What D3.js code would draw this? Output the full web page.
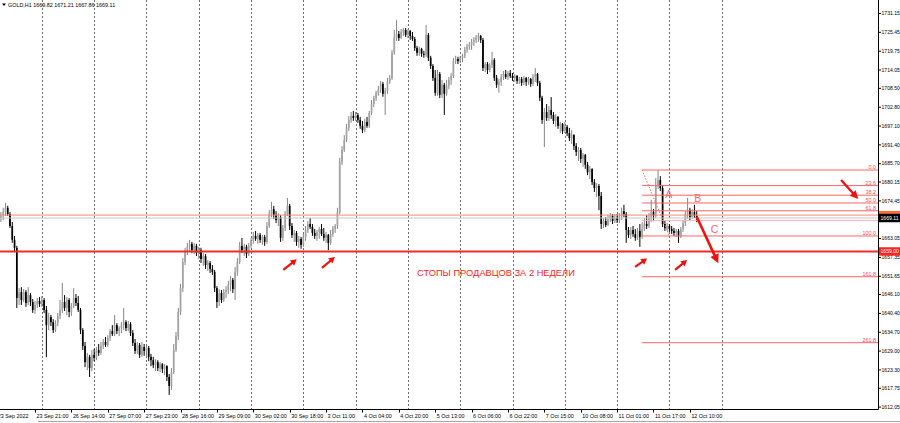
<!DOCTYPE html>
<html><head><meta charset="utf-8">
<script src="https://cdn.jsdelivr.net/npm/d3@7"></script>
<style>html,body{margin:0;padding:0;background:#fff;overflow:hidden}svg{display:block}</style>
</head><body><svg id="c" width="900" height="423"></svg>
<script>
// ---------------- DATA ----------------
const symbolName = "GOLD,H1";
const legendValues = ["1669.82", "1671.21", "1667.86", "1669.11"];

const opens = [
1669.1,1670.0,1670.9,1672.2,1670.3,1666.7,1662.5,1660.1,1644.9,1646.7,
1644.3,1646.7,1643.4,1645.8,1643.7,1641.3,1642.8,1644.0,1643.1,1644.3,
1641.3,1636.7,1639.1,1637.6,1635.2,1637.3,1639.5,1641.3,1643.7,1641.9,
1644.3,1640.7,1642.5,1644.9,1643.4,1641.3,1635.2,1630.4,1625.5,1627.1,
1623.7,1627.7,1626.8,1629.2,1628.3,1630.4,1631.6,1630.7,1632.8,1634.9,
1634.0,1636.7,1634.9,1635.8,1636.7,1637.6,1635.8,1637.0,1634.3,1631.3,
1628.9,1630.7,1627.7,1630.1,1628.9,1629.8,1627.1,1626.1,1624.6,1625.5,
1623.7,1624.9,1623.4,1624.3,1621.0,1618.3,1622.5,1629.2,1633.4,1640.7,
1647.9,1655.8,1658.8,1660.4,1661.3,1659.4,1660.7,1658.5,1659.4,1656.7,
1657.6,1654.9,1655.5,1653.7,1652.8,1647.9,1643.7,1646.4,1644.3,1646.7,
1647.3,1648.9,1650.4,1647.6,1652.8,1655.8,1660.7,1659.4,1660.4,1658.2,
1660.7,1662.2,1663.7,1662.8,1664.0,1662.5,1663.4,1661.9,1666.7,1670.3,
1671.8,1670.0,1668.5,1669.4,1663.1,1666.1,1670.3,1672.8,1666.7,1664.0,
1664.6,1661.9,1662.8,1661.0,1663.4,1665.5,1667.3,1666.4,1664.6,1663.7,
1664.9,1665.8,1664.3,1663.1,1664.0,1661.6,1664.3,1665.8,1666.7,1670.9,
1686.1,1689.7,1692.7,1696.3,1698.8,1700.0,1699.4,1700.3,1698.8,1697.0,
1695.7,1698.2,1697.0,1700.9,1703.6,1705.4,1707.0,1708.1,1709.7,1706.7,
1707.6,1710.3,1711.5,1719.1,1723.6,1724.8,1723.6,1725.4,1726.0,1724.5,
1725.7,1724.2,1723.3,1720.6,1719.1,1720.3,1718.8,1718.5,1724.5,1717.6,
1715.1,1711.5,1707.0,1712.7,1706.4,1709.4,1706.7,1709.1,1710.9,1712.1,
1716.6,1717.2,1716.6,1717.5,1718.2,1720.0,1720.9,1721.5,1722.4,1723.0,
1723.6,1724.2,1723.0,1714.5,1715.7,1713.9,1715.4,1716.9,1711.5,1709.4,
1710.3,1711.8,1712.7,1711.8,1713.0,1712.1,1711.5,1712.1,1710.6,1711.2,
1710.0,1711.5,1710.3,1711.2,1709.7,1711.8,1712.7,1710.0,1705.5,1698.8,
1701.2,1699.4,1701.8,1700.3,1698.5,1699.7,1697.0,1697.6,1695.4,1696.7,
1694.8,1693.3,1694.2,1690.9,1689.1,1689.7,1687.0,1688.2,1685.2,1683.0,
1683.9,1680.0,1678.2,1678.8,1675.8,1667.3,1668.2,1667.0,1668.8,1669.7,
1668.2,1669.1,1668.5,1669.7,1671.2,1670.3,1665.5,1664.0,1665.5,1664.3,
1663.1,1665.2,1663.4,1665.8,1667.3,1666.7,1669.1,1670.9,1669.7,1679.1,
1680.6,1678.2,1667.3,1666.1,1666.7,1665.8,1665.2,1664.6,1665.2,1663.7,
1665.8,1667.6,1670.3,1671.5,1669.4,1670.9,1669.82];

const highs = [
1670.9,1672.2,1673.7,1672.8,1670.9,1667.9,1663.7,1660.7,1647.9,1648.2,
1647.6,1647.3,1648.2,1646.4,1644.6,1644.0,1644.9,1645.2,1645.5,1644.9,
1642.5,1640.4,1639.8,1638.5,1638.2,1640.4,1644.3,1649.5,1645.8,1645.2,
1644.9,1643.4,1647.9,1646.1,1645.5,1641.9,1635.8,1631.6,1628.3,1627.7,
1629.2,1629.5,1630.1,1631.0,1631.6,1632.5,1633.1,1633.7,1635.5,1636.7,
1639.8,1637.3,1636.4,1637.6,1641.9,1638.2,1637.9,1637.6,1635.2,1632.5,
1631.6,1631.3,1631.6,1631.0,1630.7,1630.4,1628.0,1627.1,1626.4,1626.1,
1625.5,1625.2,1624.9,1624.6,1621.9,1623.7,1631.0,1634.6,1641.9,1649.2,
1657.0,1660.1,1661.6,1662.5,1661.9,1661.6,1661.3,1660.4,1660.1,1658.5,
1658.2,1656.4,1656.1,1654.9,1653.4,1648.5,1647.6,1647.3,1647.6,1648.5,
1650.1,1651.6,1651.0,1654.3,1657.0,1661.9,1663.1,1661.3,1661.0,1661.6,
1663.1,1664.9,1665.2,1664.6,1664.6,1664.0,1664.0,1667.9,1671.5,1674.0,
1672.8,1671.2,1670.6,1670.0,1667.0,1671.2,1675.2,1673.4,1667.6,1665.5,
1665.2,1663.7,1663.4,1664.3,1666.7,1668.2,1669.1,1667.3,1665.8,1665.5,
1666.4,1667.3,1666.1,1664.9,1664.3,1665.5,1666.7,1667.3,1672.2,1687.3,
1690.9,1694.2,1697.6,1700.0,1701.2,1701.5,1701.2,1700.9,1699.7,1698.5,
1699.1,1699.7,1701.5,1704.8,1706.1,1707.6,1709.1,1710.6,1710.3,1708.5,
1711.5,1712.4,1720.0,1726.0,1729.0,1725.7,1726.3,1726.6,1726.6,1726.3,
1726.0,1725.4,1723.9,1721.2,1720.9,1720.6,1719.7,1727.5,1725.1,1718.2,
1715.7,1713.9,1713.9,1713.3,1710.9,1710.0,1710.9,1711.8,1713.0,1717.5,
1718.2,1717.9,1718.2,1718.8,1720.9,1721.8,1722.4,1723.3,1723.9,1724.5,
1725.1,1724.5,1723.6,1716.3,1716.3,1716.0,1719.4,1717.5,1712.4,1711.2,
1712.7,1713.6,1713.9,1713.6,1713.9,1713.0,1712.7,1712.4,1711.8,1711.8,
1712.1,1711.8,1711.8,1711.5,1712.7,1714.5,1713.0,1710.6,1706.1,1702.4,
1703.6,1703.0,1705.7,1701.2,1700.6,1700.0,1698.2,1697.9,1698.2,1697.3,
1696.4,1695.7,1694.5,1691.8,1690.6,1690.3,1688.8,1688.5,1686.1,1684.9,
1684.2,1680.9,1679.7,1679.4,1677.0,1669.1,1669.4,1670.0,1670.6,1670.3,
1670.3,1670.3,1670.6,1672.2,1673.1,1670.9,1666.4,1666.4,1666.7,1665.8,
1666.1,1667.3,1667.9,1669.1,1670.0,1670.6,1674.6,1671.8,1681.2,1683.6,
1681.8,1679.1,1668.2,1667.6,1667.3,1666.7,1666.1,1665.8,1665.8,1666.4,
1668.5,1671.2,1675.2,1672.2,1671.8,1673.1,1671.21];

const lows = [
1667.9,1668.5,1669.7,1669.7,1666.1,1661.6,1658.8,1641.9,1642.8,1642.8,
1643.7,1642.2,1642.8,1642.5,1640.4,1640.1,1641.9,1642.2,1642.2,1640.4,
1627.0,1635.2,1636.4,1634.3,1634.6,1636.4,1638.5,1640.4,1641.0,1639.8,
1639.1,1639.5,1641.9,1642.5,1640.7,1634.0,1629.2,1624.0,1623.1,1621.0,
1622.8,1625.8,1626.1,1627.4,1627.7,1629.5,1630.1,1630.1,1631.9,1633.4,
1633.4,1634.0,1633.4,1634.3,1635.2,1634.9,1634.9,1633.4,1630.4,1628.0,
1628.0,1626.8,1627.1,1627.4,1627.1,1625.8,1624.3,1623.7,1622.8,1622.8,
1622.5,1622.2,1621.6,1619.8,1615.6,1617.1,1621.9,1628.6,1632.2,1639.8,
1646.7,1654.9,1657.9,1659.1,1658.5,1658.2,1657.6,1656.7,1655.5,1654.6,
1653.7,1653.1,1652.5,1651.9,1646.7,1641.9,1642.5,1643.4,1643.7,1644.9,
1646.1,1647.0,1646.4,1644.3,1651.6,1655.2,1658.5,1657.6,1657.0,1657.6,
1660.1,1661.3,1662.2,1661.3,1661.6,1661.0,1660.7,1661.3,1666.1,1669.4,
1668.8,1667.6,1666.7,1661.9,1662.2,1665.2,1669.7,1665.5,1663.1,1661.9,
1660.7,1660.1,1659.8,1660.4,1662.2,1664.6,1665.8,1663.7,1662.8,1662.2,
1662.8,1663.7,1662.2,1661.6,1659.4,1661.0,1663.4,1664.6,1665.8,1670.3,
1685.2,1689.1,1692.1,1695.4,1697.9,1698.5,1698.5,1697.9,1696.1,1694.8,
1695.1,1696.4,1696.4,1700.3,1702.7,1704.5,1706.1,1707.0,1705.8,1700.3,
1706.7,1709.7,1710.9,1718.5,1722.7,1722.7,1723.3,1724.2,1723.9,1723.6,
1723.0,1722.7,1719.7,1718.2,1718.2,1717.9,1717.6,1717.9,1716.6,1714.2,
1710.6,1706.1,1706.1,1705.4,1705.4,1700.3,1706.1,1708.1,1709.4,1711.5,
1715.7,1715.7,1716.0,1716.3,1717.5,1719.1,1720.0,1720.0,1721.2,1722.1,
1722.4,1722.1,1713.6,1713.3,1712.7,1713.3,1714.5,1710.6,1708.5,1707.0,
1709.1,1710.9,1711.2,1710.9,1711.5,1710.6,1710.3,1709.7,1709.7,1709.1,
1709.4,1709.1,1709.4,1708.8,1709.1,1710.3,1709.1,1704.5,1697.6,1690.6,
1698.5,1698.5,1699.1,1697.6,1696.7,1696.1,1694.8,1694.5,1694.8,1693.9,
1692.4,1691.5,1689.7,1687.9,1686.4,1685.8,1684.6,1684.0,1682.1,1680.9,
1679.1,1677.0,1675.5,1671.5,1665.8,1666.1,1666.4,1666.7,1667.9,1667.3,
1667.6,1667.6,1667.6,1668.5,1669.4,1661.6,1663.1,1662.8,1663.4,1662.2,
1662.5,1660.4,1662.8,1665.2,1665.8,1666.1,1667.9,1668.2,1669.1,1677.9,
1677.3,1666.4,1665.2,1665.2,1664.9,1664.3,1663.7,1663.4,1661.6,1663.1,
1664.9,1666.7,1668.8,1668.5,1668.8,1669.1,1667.86];

const closes = [
1670.0,1670.9,1672.2,1670.3,1666.7,1662.5,1660.1,1644.9,1646.7,1644.3,
1646.7,1643.4,1645.8,1643.7,1641.3,1642.8,1644.0,1643.1,1644.3,1641.3,
1636.7,1639.1,1637.6,1635.2,1637.3,1639.5,1641.3,1643.7,1641.9,1644.3,
1640.7,1642.5,1644.9,1643.4,1641.3,1635.2,1630.4,1625.5,1627.1,1623.7,
1627.7,1626.8,1629.2,1628.3,1630.4,1631.6,1630.7,1632.8,1634.9,1634.0,
1636.7,1634.9,1635.8,1636.7,1637.6,1635.8,1637.0,1634.3,1631.3,1628.9,
1630.7,1627.7,1630.1,1628.9,1629.8,1627.1,1626.1,1624.6,1625.5,1623.7,
1624.9,1623.4,1624.3,1621.0,1618.3,1622.5,1629.2,1633.4,1640.7,1647.9,
1655.8,1658.8,1660.4,1661.3,1659.4,1660.7,1658.5,1659.4,1656.7,1657.6,
1654.9,1655.5,1653.7,1652.8,1647.9,1643.7,1646.4,1644.3,1646.7,1647.3,
1648.9,1650.4,1647.6,1652.8,1655.8,1660.7,1659.4,1660.4,1658.2,1660.7,
1662.2,1663.7,1662.8,1664.0,1662.5,1663.4,1661.9,1666.7,1670.3,1671.8,
1670.0,1668.5,1669.4,1663.1,1666.1,1670.3,1672.8,1666.7,1664.0,1664.6,
1661.9,1662.8,1661.0,1663.4,1665.5,1667.3,1666.4,1664.6,1663.7,1664.9,
1665.8,1664.3,1663.1,1664.0,1661.6,1664.3,1665.8,1666.7,1670.9,1686.1,
1689.7,1692.7,1696.3,1698.8,1700.0,1699.4,1700.3,1698.8,1697.0,1695.7,
1698.2,1697.0,1700.9,1703.6,1705.4,1707.0,1708.1,1709.7,1706.7,1707.6,
1710.3,1711.5,1719.1,1723.6,1724.8,1723.6,1725.4,1726.0,1724.5,1725.7,
1724.2,1723.3,1720.6,1719.1,1720.3,1718.8,1718.5,1724.5,1717.6,1715.1,
1711.5,1707.0,1712.7,1706.4,1709.4,1706.7,1709.1,1710.9,1712.1,1716.6,
1717.2,1716.6,1717.5,1718.2,1720.0,1720.9,1721.5,1722.4,1723.0,1723.6,
1724.2,1723.0,1714.5,1715.7,1713.9,1715.4,1716.9,1711.5,1709.4,1710.3,
1711.8,1712.7,1711.8,1713.0,1712.1,1711.5,1712.1,1710.6,1711.2,1710.0,
1711.5,1710.3,1711.2,1709.7,1711.8,1712.7,1710.0,1705.5,1698.8,1701.2,
1699.4,1701.8,1700.3,1698.5,1699.7,1697.0,1697.6,1695.4,1696.7,1694.8,
1693.3,1694.2,1690.9,1689.1,1689.7,1687.0,1688.2,1685.2,1683.0,1683.9,
1680.0,1678.2,1678.8,1675.8,1667.3,1668.2,1667.0,1668.8,1669.7,1668.2,
1669.1,1668.5,1669.7,1671.2,1670.3,1665.5,1664.0,1665.5,1664.3,1663.1,
1665.2,1663.4,1665.8,1667.3,1666.7,1669.1,1670.9,1669.7,1679.1,1680.6,
1678.2,1667.3,1666.1,1666.7,1665.8,1665.2,1664.6,1665.2,1663.7,1665.8,
1667.6,1670.3,1671.5,1669.4,1670.9,1669.8,1669.11];

// bar index of each day's first hour (grid separators), incl. next day
const dayStartBars = [18,41,64,87,110,133,156,179,202,225,248,271,294,317];
// time-axis labels and the bar each one sits on
const dateLabels = ["23 Sep 2022","23 Sep 21:00","26 Sep 14:00","27 Sep 07:00","27 Sep 23:00",
  "28 Sep 16:00","29 Sep 09:00","30 Sep 02:00","30 Sep 18:00","3 Oct 11:00","4 Oct 04:00",
  "4 Oct 20:00","5 Oct 13:00","6 Oct 06:00","6 Oct 22:00","7 Oct 15:00","10 Oct 08:00",
  "11 Oct 01:00","11 Oct 17:00","12 Oct 10:00"];
const dateLabelBars = [-2,15,31,47,63,79,95,111,127,143,159,175,191,207,223,239,255,271,287,303];

const priceTicks = [1731.15,1725.45,1719.75,1714.05,1708.50,1702.80,1697.10,1691.40,1685.70,
  1680.15,1674.45,1663.05,1657.35,1651.65,1646.10,1640.40,1634.70,1629.00,1623.30,
  1617.75,1612.05];

const supportLevel = 1659.00;   // thick red line
const resistLevel = 1670.00;    // salmon line
const bidPrice = 1669.11;       // grey bid line

const fibHigh = 1683.64, fibLow = 1663.68, fibStartBar = 282, fibEndBar = 294;
const fibLevels = [0, 23.6, 38.2, 50.0, 61.8, 76.4, 100, 161.8, 261.8];
const fibLabels = ["0.0","23.6","38.2","50.0","61.8","","100.0","161.8","261.8"];

// arrows: [tailBar, tailPrice, tipBar, tipPrice, size]
const arrows = [
  [124.2,1653.4,130.1,1656.6,"s"],
  [141.2,1654.0,146.9,1657.3,"s"],
  [278.9,1654.3,284.2,1656.9,"s"],
  [296.5,1653.4,301.8,1656.4,"s"],
  [306.0,1669.5,315.5,1655.4,"l"],
  [369.5,1680.6,377.0,1674.9,"m"]
];
const waveLabels = [["A",293.7,1675.1],["B",306.5,1674.0],["C",313.8,1664.5]];
const noteText = "СТОПЫ ПРОДАВЦОВ ЗА 2 НЕДЕЛИ";
const notePos = [183.0, 1651.6];

// ---------------- DRAW ----------------
const svg = d3.select("#c");
const FONT = "'Liberation Sans', Arial, sans-serif";
const plotRight = 878, plotBottom = 409.5;
const x = d3.scaleLinear().domain([0, 306]).range([0.9, 696.7]);
const y = d3.scaleLinear().domain([1612.05, 1731.15]).range([406.6, 13.0]);

// vertical dotted grid (day separators)
svg.append("g").selectAll("line").data(dayStartBars).join("line")
  .attr("x1", d => Math.round(x(d)) + 0.5).attr("x2", d => Math.round(x(d)) + 0.5)
  .attr("y1", 0).attr("y2", plotBottom + 2)
  .attr("stroke", "#6e6e6e").attr("stroke-width", 1).attr("stroke-dasharray", "2,2");

// candles
const bars = d3.range(closes.length).map(i => ({i, o: opens[i], h: highs[i], l: lows[i], c: closes[i]}));
const gC = svg.append("g");
gC.selectAll("rect.w").data(bars).join("rect").attr("class","w")
  .attr("x", d => x(d.i) - 0.5).attr("width", 1)
  .attr("y", d => y(d.h)).attr("height", d => Math.max(0.6, y(d.l) - y(d.h)))
  .attr("fill", d => d.c >= d.o ? "#858585" : "#000");
gC.selectAll("rect.b").data(bars).join("rect").attr("class","b")
  .attr("x", d => x(d.i) - 0.85).attr("width", 1.7)
  .attr("y", d => y(Math.max(d.o, d.c)))
  .attr("height", d => Math.max(0.8, Math.abs(y(d.o) - y(d.c))))
  .attr("fill", d => d.c >= d.o ? "#a2a2a2" : "#000");

// horizontal levels
const hl = svg.append("g");
hl.append("line").attr("x1", 0).attr("x2", plotRight).attr("y1", y(resistLevel)).attr("y2", y(resistLevel))
  .attr("stroke", "#f58a70").attr("stroke-width", 1);
hl.append("line").attr("x1", 0).attr("x2", plotRight).attr("y1", y(bidPrice)).attr("y2", y(bidPrice))
  .attr("stroke", "#c8c8c8").attr("stroke-width", 1);
hl.append("line").attr("x1", 0).attr("x2", plotRight).attr("y1", y(supportLevel)).attr("y2", y(supportLevel))
  .attr("stroke", "#f42a2a").attr("stroke-width", 2);

// fibonacci
const fibPrice = lv => fibHigh - (fibHigh - fibLow) * lv / 100;
const fg = svg.append("g");
fg.selectAll("line.f").data(fibLevels).join("line").attr("class","f")
  .attr("x1", x(fibStartBar)).attr("x2", plotRight)
  .attr("y1", d => y(fibPrice(d))).attr("y2", d => y(fibPrice(d)))
  .attr("stroke", (d,i) => fibLabels[i] === "" ? "#ffb0b0" : "#ff6464").attr("stroke-width", 1);
fg.selectAll("text").data(fibLevels.filter((d,i) => fibLabels[i] !== "")).join("text")
  .attr("x", plotRight - 2).attr("y", d => y(fibPrice(d)) - 1)
  .attr("text-anchor", "end").attr("font-family", FONT).attr("font-size", 5.4)
  .attr("fill", "#ff4a4a").text(d => fibLabels[fibLevels.indexOf(d)]);
fg.append("line").attr("x1", x(fibStartBar)).attr("y1", y(fibHigh))
  .attr("x2", x(fibEndBar)).attr("y2", y(fibLow))
  .attr("stroke", "#ff6464").attr("stroke-width", 1).attr("stroke-dasharray", "1.5,1.5");

// arrows
const ag = svg.append("g");
const sizes = {s: [2.2, 6, 3.4], m: [2.4, 8, 4], l: [2.6, 9, 4.5]};
arrows.forEach(a => {
  const x1 = x(a[0]), y1 = y(a[1]), x2 = x(a[2]), y2 = y(a[3]);
  const [w, L, hw] = sizes[a[4]];
  const len = Math.hypot(x2 - x1, y2 - y1), ux = (x2 - x1) / len, uy = (y2 - y1) / len;
  const bx = x2 - ux * L, by = y2 - uy * L;
  ag.append("line").attr("x1", x1).attr("y1", y1).attr("x2", bx + ux).attr("y2", by + uy)
    .attr("stroke", "#f01010").attr("stroke-width", w);
  ag.append("path").attr("d", `M${x2},${y2}L${bx - uy * hw},${by + ux * hw}L${bx + uy * hw},${by - ux * hw}Z`)
    .attr("fill", "#f01010");
});

// text annotations
svg.append("g").selectAll("text").data(waveLabels).join("text")
  .attr("x", d => x(d[1])).attr("y", d => y(d[2])).attr("text-anchor", "middle")
  .attr("font-family", FONT).attr("font-size", 10.5).attr("fill", "#f36a6a").text(d => d[0]);
svg.append("text").attr("x", x(notePos[0])).attr("y", y(notePos[1]))
  .attr("font-family", FONT).attr("font-size", 9.3).attr("fill", "#ff1c1c").text(noteText);

// axes frame
svg.append("line").attr("x1", plotRight + 0.5).attr("x2", plotRight + 0.5).attr("y1", 0).attr("y2", plotBottom)
  .attr("stroke", "#000");
svg.append("line").attr("x1", 0).attr("x2", plotRight + 0.5).attr("y1", plotBottom).attr("y2", plotBottom)
  .attr("stroke", "#000");
svg.append("line").attr("x1", 38).attr("x2", 900).attr("y1", 421.5).attr("y2", 421.5)
  .attr("stroke", "#a8a8a8");

// price axis
const yAxis = d3.axisRight(y).tickValues(priceTicks).tickFormat(d3.format(".2f")).tickSize(2.5).tickPadding(0.5);
const ga = svg.append("g").attr("transform", `translate(${plotRight + 0.5},0)`).call(yAxis);
ga.select(".domain").remove();
ga.selectAll("line").attr("stroke", "#000");
ga.selectAll("text").attr("font-family", FONT).attr("font-size", 5.1).attr("fill", "#000");

// price boxes
const box = (price, fill, txt, tfill) => {
  svg.append("rect").attr("x", plotRight + 1).attr("y", y(price) - 4.2).attr("width", 22).attr("height", 8.4).attr("fill", fill);
  if (txt) svg.append("text").attr("x", plotRight + 2.5).attr("y", y(price) + 1.9).attr("font-family", FONT)
    .attr("font-size", 5.1).attr("fill", tfill).text(txt);
};
box(resistLevel, "#ff6a3d", null, "#fff");
box(bidPrice, "#000", d3.format(".2f")(bidPrice), "#fff");
box(supportLevel, "#ff2424", d3.format(".2f")(supportLevel), "#fff");

// time axis
const gt = svg.append("g");
gt.selectAll("line").data(dateLabelBars).join("line")
  .attr("x1", d => Math.round(x(d)) + 0.5).attr("x2", d => Math.round(x(d)) + 0.5)
  .attr("y1", plotBottom).attr("y2", plotBottom + 3).attr("stroke", "#000");
gt.selectAll("text").data(dateLabels).join("text")
  .attr("x", (d,i) => x(dateLabelBars[i]) + 1.5).attr("y", 417.5)
  .attr("font-family", FONT).attr("font-size", 5.4).attr("fill", "#000").text(d => d);

// legend
svg.append("path").attr("d", "M2,3.5L6,3.5L4,6Z").attr("fill", "#000");
svg.append("text").attr("x", 8).attr("y", 7).attr("font-family", FONT).attr("font-size", 5.4)
  .attr("fill", "#000").text(symbolName + "  " + legendValues.join(" "));
</script>
</body></html>
